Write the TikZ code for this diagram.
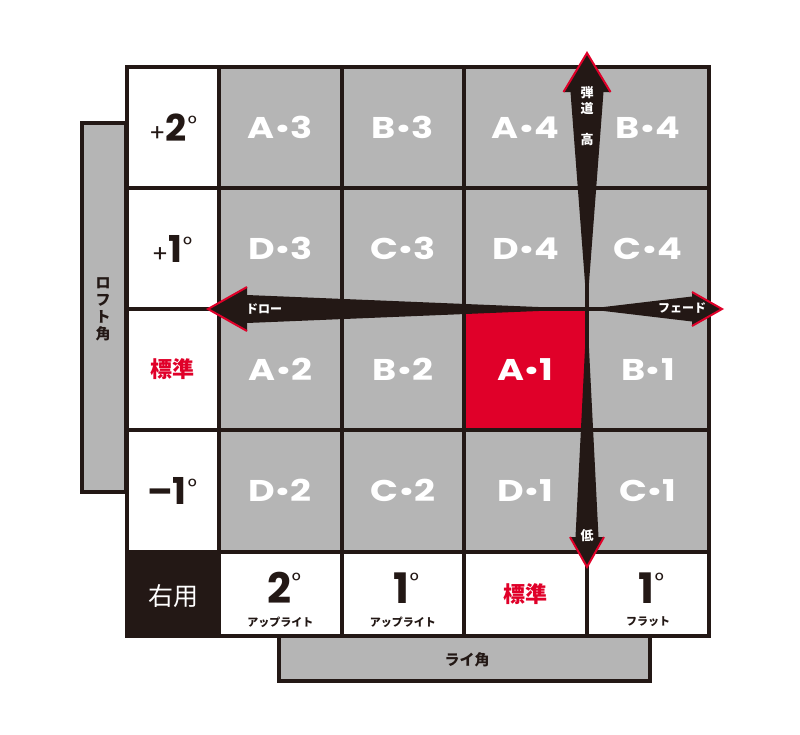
\documentclass[tikz,border=0pt]{standalone}
\usepackage{fontspec}
\setmainfont{Poppins}
\newfontfamily\cellfont{Poppins}[FakeStretch=1.22]
\newfontfamily\jp{Noto Sans CJK JP}
\definecolor{ink}{HTML}{231815}
\definecolor{cellgray}{HTML}{B5B5B5}
\definecolor{hired}{HTML}{E00029}
\newcommand{\degr}[1]{\kern1pt\raisebox{#1}{\fontsize{22}{22}\selectfont\mdseries°}}
\newcommand{\cdotx}{\kern0.5pt\raisebox{-3pt}{\fontsize{40}{40}\selectfont·}\kern0.5pt}
\begin{document}
\begin{tikzpicture}[x=1pt,y=-1pt,
  gridline/.style={draw=ink,line width=4pt},
  celltxt/.style={text=white,font=\cellfont\fontsize{30}{30}\selectfont\bfseries,inner sep=0pt,anchor=base},
  bigdig/.style={text=ink,inner sep=0pt,font=\fontsize{37}{37}\selectfont\bfseries},
  botdig/.style={text=ink,inner sep=0pt,font=\fontsize{42}{42}\selectfont\bfseries},
  jpsmall/.style={font=\jp\bfseries\fontsize{11}{11}\selectfont,text=ink,inner sep=0pt},
  jpred/.style={font=\jp\bfseries\fontsize{22}{22}\selectfont,text=hired,inner sep=0pt},
  arrowtxt/.style={font=\jp\bfseries\fontsize{12}{12}\selectfont,text=white,inner sep=0pt},
  panel/.style={draw=ink,line width=4pt,fill=cellgray},
  headedge/.style={draw=hired,line width=2pt,line join=miter}]
\useasboundingbox (0,0) rectangle (800,734);
% side panels
\draw[panel] (82,123) rectangle (126,492);
\draw[panel] (279,636) rectangle (650,681);
% main grid fills
\fill[white] (126.5,67) rectangle (709.4,636);
\fill[cellgray] (219,67) rectangle (709.4,552);
\fill[hired] (464.2,309) rectangle (586.8,430);
\fill[ink] (126.5,552) rectangle (219,636);
% grid lines
\draw[gridline] (126.5,67) rectangle (709.4,636);
\foreach \x in {219,341.6,464.2,586.8} \draw[gridline] (\x,67) -- (\x,636);
\foreach \y in {188,309,430,552} \draw[gridline] (126.5,\y) -- (709.4,\y);
% arrows
\coordinate (ctr) at (587,309);
\fill[ink] (ctr) -- (570.5,92) -- (563.5,92) -- (587,53) -- (610.5,92) -- (603.5,92) -- cycle;
\draw[headedge] (563.5,92) -- (587,53) -- (610.5,92);
\fill[ink] (ctr) -- (575.5,537) -- (570,537) -- (587,567) -- (604,537) -- (598.5,537) -- cycle;
\draw[headedge] (570,537) -- (587,567) -- (604,537);
\fill[ink] (ctr) -- (247,295) -- (247,287) -- (208,309) -- (247,331) -- (247,323) -- cycle;
\draw[headedge] (247,287) -- (208,309) -- (247,331);
\fill[ink] (ctr) -- (692,296.5) -- (692,292) -- (722,309) -- (692,326) -- (692,321.5) -- cycle;
\draw[headedge] (692,292) -- (722,309) -- (692,326);
% arrow labels
\node[arrowtxt] (draw) at (264,309) {ドロー};
\node[arrowtxt] (fade) at (682,308) {フェード};
\node[arrowtxt,align=center,font=\jp\bfseries\fontsize{13}{16}\selectfont] (dandou) at (587,100) {弾\\道};
\node[arrowtxt,font=\jp\bfseries\fontsize{13}{13}\selectfont] (takai) at (587,140) {高};
\node[arrowtxt,font=\jp\bfseries\fontsize{13}{13}\selectfont] (hikui) at (587,536) {低};
% cell labels (baseline at row centre + 10.5)
\node[celltxt] (A3) at (280.3,138) {A\cdotx 3};
\node[celltxt] (B3) at (402.9,138) {B\cdotx 3};
\node[celltxt] (A4) at (525.5,138) {A\cdotx 4};
\node[celltxt] (B4) at (648.1,138) {B\cdotx 4};
\node[celltxt] (D3) at (280.3,259) {D\cdotx 3};
\node[celltxt] (C3) at (402.9,259) {C\cdotx 3};
\node[celltxt] (D4) at (525.5,259) {D\cdotx 4};
\node[celltxt] (C4) at (648.1,259) {C\cdotx 4};
\node[celltxt] (A2) at (280.3,380) {A\cdotx 2};
\node[celltxt] (B2) at (402.9,380) {B\cdotx 2};
\node[celltxt] (A1) at (525.5,380) {A\cdotx 1};
\node[celltxt] (B1) at (648.1,380) {B\cdotx 1};
\node[celltxt] (D2) at (280.3,501) {D\cdotx 2};
\node[celltxt] (C2) at (402.9,501) {C\cdotx 2};
\node[celltxt] (D1) at (525.5,501) {D\cdotx 1};
\node[celltxt] (C1) at (648.1,501) {C\cdotx 1};
% row labels
\node[bigdig,anchor=base] (p2) at (173,141) {{\fontsize{24}{24}\selectfont\mdseries +}2\degr{10pt}};
\node[bigdig,anchor=base] (p1) at (172,262) {{\fontsize{24}{24}\selectfont\mdseries +}1\degr{10pt}};
\node[jpred] (std1) at (172,369.5) {標準};
\node[bigdig,anchor=base] (m1) at (172,504) {–1\degr{10pt}};
\node[text=white,inner sep=0pt,font=\jp\fontsize{25}{25}\selectfont] (migi) at (173,596) {右用};
% bottom labels
\node[botdig,anchor=base] (b2) at (284,603) {2\degr{15pt}};
\node[jpsmall] (up2) at (280.3,622) {アップライト};
\node[botdig,anchor=base] (b1) at (406,603) {1\degr{15pt}};
\node[jpsmall] (up1) at (402.9,622) {アップライト};
\node[jpred] (std2) at (525.5,594) {標準};
\node[botdig,anchor=base] (bf) at (651,603) {1\degr{15pt}};
\node[jpsmall] (flat) at (648.1,622) {フラット};
% axis titles
\node[align=center,inner sep=0pt,text=ink,font=\jp\bfseries\fontsize{15}{17}\selectfont] (loft) at (103,309) {ロ\\フ\\ト\\角};
\node[inner sep=0pt,text=ink,font=\jp\bfseries\fontsize{15}{15}\selectfont] (lie) at (467,660) {ライ角};
\end{tikzpicture}
\end{document}
